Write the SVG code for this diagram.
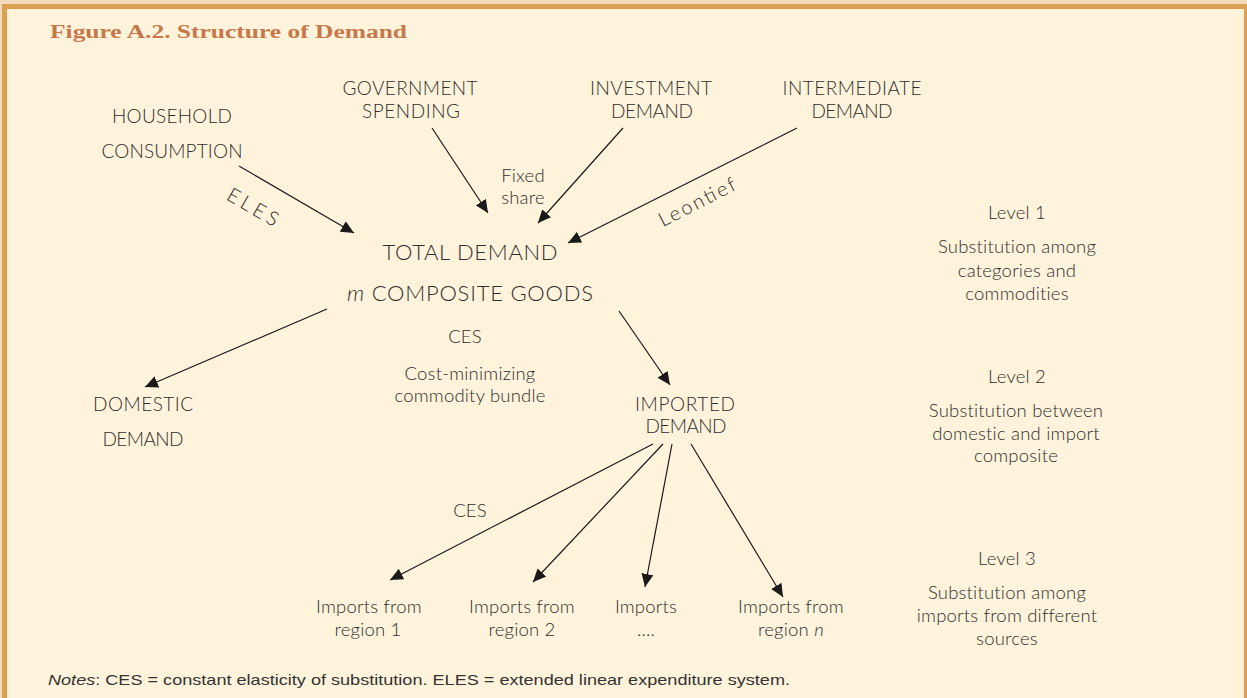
<svg xmlns="http://www.w3.org/2000/svg" width="1247" height="698" viewBox="0 0 1247 698">
<style>
.lbl{font-family:Lato,"Noto Sans","Liberation Sans",sans-serif;font-weight:300;font-size:19px;fill:#2e2e2e;text-anchor:middle}
.big{font-size:22px}
.sm{font-family:Lato,"Noto Sans","Liberation Sans",sans-serif;font-weight:300;font-size:18.5px;letter-spacing:0.2px;fill:#2e2e2e;text-anchor:middle}
.rot{font-family:Lato,"Noto Sans","Liberation Sans",sans-serif;font-weight:300;font-size:20px;fill:#2e2e2e;text-anchor:middle}
.edge{stroke:#1a1a1a;stroke-width:1.2;fill:none;marker-end:url(#ah)}
</style>
<defs>
<marker id="ah" markerUnits="userSpaceOnUse" markerWidth="14" markerHeight="12" refX="13" refY="6" orient="auto">
<path d="M0,0 L13,6 L0,12 z" fill="#1a1a1a"/>
</marker>
</defs>
<rect x="0" y="0" width="1247" height="698" fill="#FFF3DC"/>
<rect x="0" y="0" width="1247" height="4" fill="#F2DABA"/>
<rect x="0" y="0" width="2" height="698" fill="#F2DABA"/>
<rect x="2" y="4" width="1245" height="5" fill="#DCA054"/>
<rect x="2" y="4" width="5" height="694" fill="#DCA054"/>
<rect x="1244" y="4" width="3" height="694" fill="#DCA054"/>
<text x="50" y="38" font-family="'Liberation Serif',serif" font-weight="bold" font-size="18" fill="#C7784A" textLength="357" lengthAdjust="spacingAndGlyphs">Figure A.2.  Structure of Demand</text>
<g id="connectors">
<line class="edge" x1="239" y1="166" x2="354" y2="233"/>
<line class="edge" x1="432" y1="128" x2="488" y2="213"/>
<line class="edge" x1="623" y1="128" x2="538" y2="223"/>
<line class="edge" x1="797" y1="128" x2="568" y2="243"/>
<line class="edge" x1="327" y1="309" x2="145" y2="387"/>
<line class="edge" x1="619" y1="311" x2="670" y2="385"/>
<line class="edge" x1="653" y1="444" x2="390" y2="580"/>
<line class="edge" x1="663" y1="444" x2="533" y2="582"/>
<line class="edge" x1="672" y1="444" x2="645" y2="587"/>
<line class="edge" x1="691" y1="444" x2="783" y2="597"/>
</g>
<g id="household">
<text class="lbl" x="172" y="123" textLength="120" lengthAdjust="spacing">HOUSEHOLD</text>
<text class="lbl" x="172" y="158" textLength="141" lengthAdjust="spacing">CONSUMPTION</text>
</g>
<g id="government">
<text class="lbl" x="410" y="95" textLength="135" lengthAdjust="spacing">GOVERNMENT</text>
<text class="lbl" x="411" y="118" textLength="98" lengthAdjust="spacing">SPENDING</text>
</g>
<g id="investment">
<text class="lbl" x="651" y="95" textLength="122" lengthAdjust="spacing">INVESTMENT</text>
<text class="lbl" x="652" y="118" textLength="82" lengthAdjust="spacing">DEMAND</text>
</g>
<g id="intermediate">
<text class="lbl" x="852" y="95" textLength="139" lengthAdjust="spacing">INTERMEDIATE</text>
<text class="lbl" x="852" y="118" textLength="81" lengthAdjust="spacing">DEMAND</text>
</g>
<g id="edge-labels">
<text class="rot" x="253" y="214" transform="rotate(30 253 207)" textLength="56" lengthAdjust="spacing">ELES</text>
<text class="sm" x="523" y="182">Fixed</text>
<text class="sm" x="523" y="204">share</text>
<text class="rot" x="697" y="209" transform="rotate(-27 697 202)" textLength="84" lengthAdjust="spacing">Leontief</text>
<text class="sm" x="470" y="517">CES</text>
</g>
<g id="total">
<text class="lbl big" x="470" y="260" textLength="175" lengthAdjust="spacing">TOTAL DEMAND</text>
<text class="lbl big" x="470" y="301" textLength="246" lengthAdjust="spacing"><tspan font-style="italic">m</tspan> COMPOSITE GOODS</text>
<text class="sm" x="465" y="343">CES</text>
<text class="sm" x="470" y="380">Cost-minimizing</text>
<text class="sm" x="470" y="402">commodity bundle</text>
</g>
<g id="domestic">
<text class="lbl" x="143" y="411" textLength="100" lengthAdjust="spacing">DOMESTIC</text>
<text class="lbl" x="143" y="446" textLength="81" lengthAdjust="spacing">DEMAND</text>
</g>
<g id="imported">
<text class="lbl" x="685" y="411" textLength="100" lengthAdjust="spacing">IMPORTED</text>
<text class="lbl" x="686" y="433" textLength="81" lengthAdjust="spacing">DEMAND</text>
</g>
<g id="region1">
<text class="sm" x="369" y="613">Imports from</text>
<text class="sm" x="368" y="636">region 1</text>
</g>
<g id="region2">
<text class="sm" x="522" y="613">Imports from</text>
<text class="sm" x="522" y="636">region 2</text>
</g>
<g id="region-dots">
<text class="sm" x="646" y="613">Imports</text>
<text class="sm" x="646" y="636">....</text>
</g>
<g id="regionn">
<text class="sm" x="791" y="613">Imports from</text>
<text class="sm" x="791" y="636">region <tspan font-style="italic">n</tspan></text>
</g>
<g id="level1">
<text class="sm" x="1017" y="219">Level 1</text>
<text class="sm" x="1017" y="253">Substitution among</text>
<text class="sm" x="1017" y="277">categories and</text>
<text class="sm" x="1017" y="300">commodities</text>
</g>
<g id="level2">
<text class="sm" x="1017" y="383">Level 2</text>
<text class="sm" x="1016" y="417">Substitution between</text>
<text class="sm" x="1016" y="440">domestic and import</text>
<text class="sm" x="1016" y="462">composite</text>
</g>
<g id="level3">
<text class="sm" x="1007" y="565">Level 3</text>
<text class="sm" x="1007" y="599">Substitution among</text>
<text class="sm" x="1007" y="622">imports from different</text>
<text class="sm" x="1007" y="645">sources</text>
</g>
<text x="48" y="685" font-family="'Liberation Sans',sans-serif" font-size="15" fill="#333" textLength="742" lengthAdjust="spacingAndGlyphs"><tspan font-style="italic">Notes</tspan>: CES = constant elasticity of substitution. ELES = extended linear expenditure system.</text>
</svg>
